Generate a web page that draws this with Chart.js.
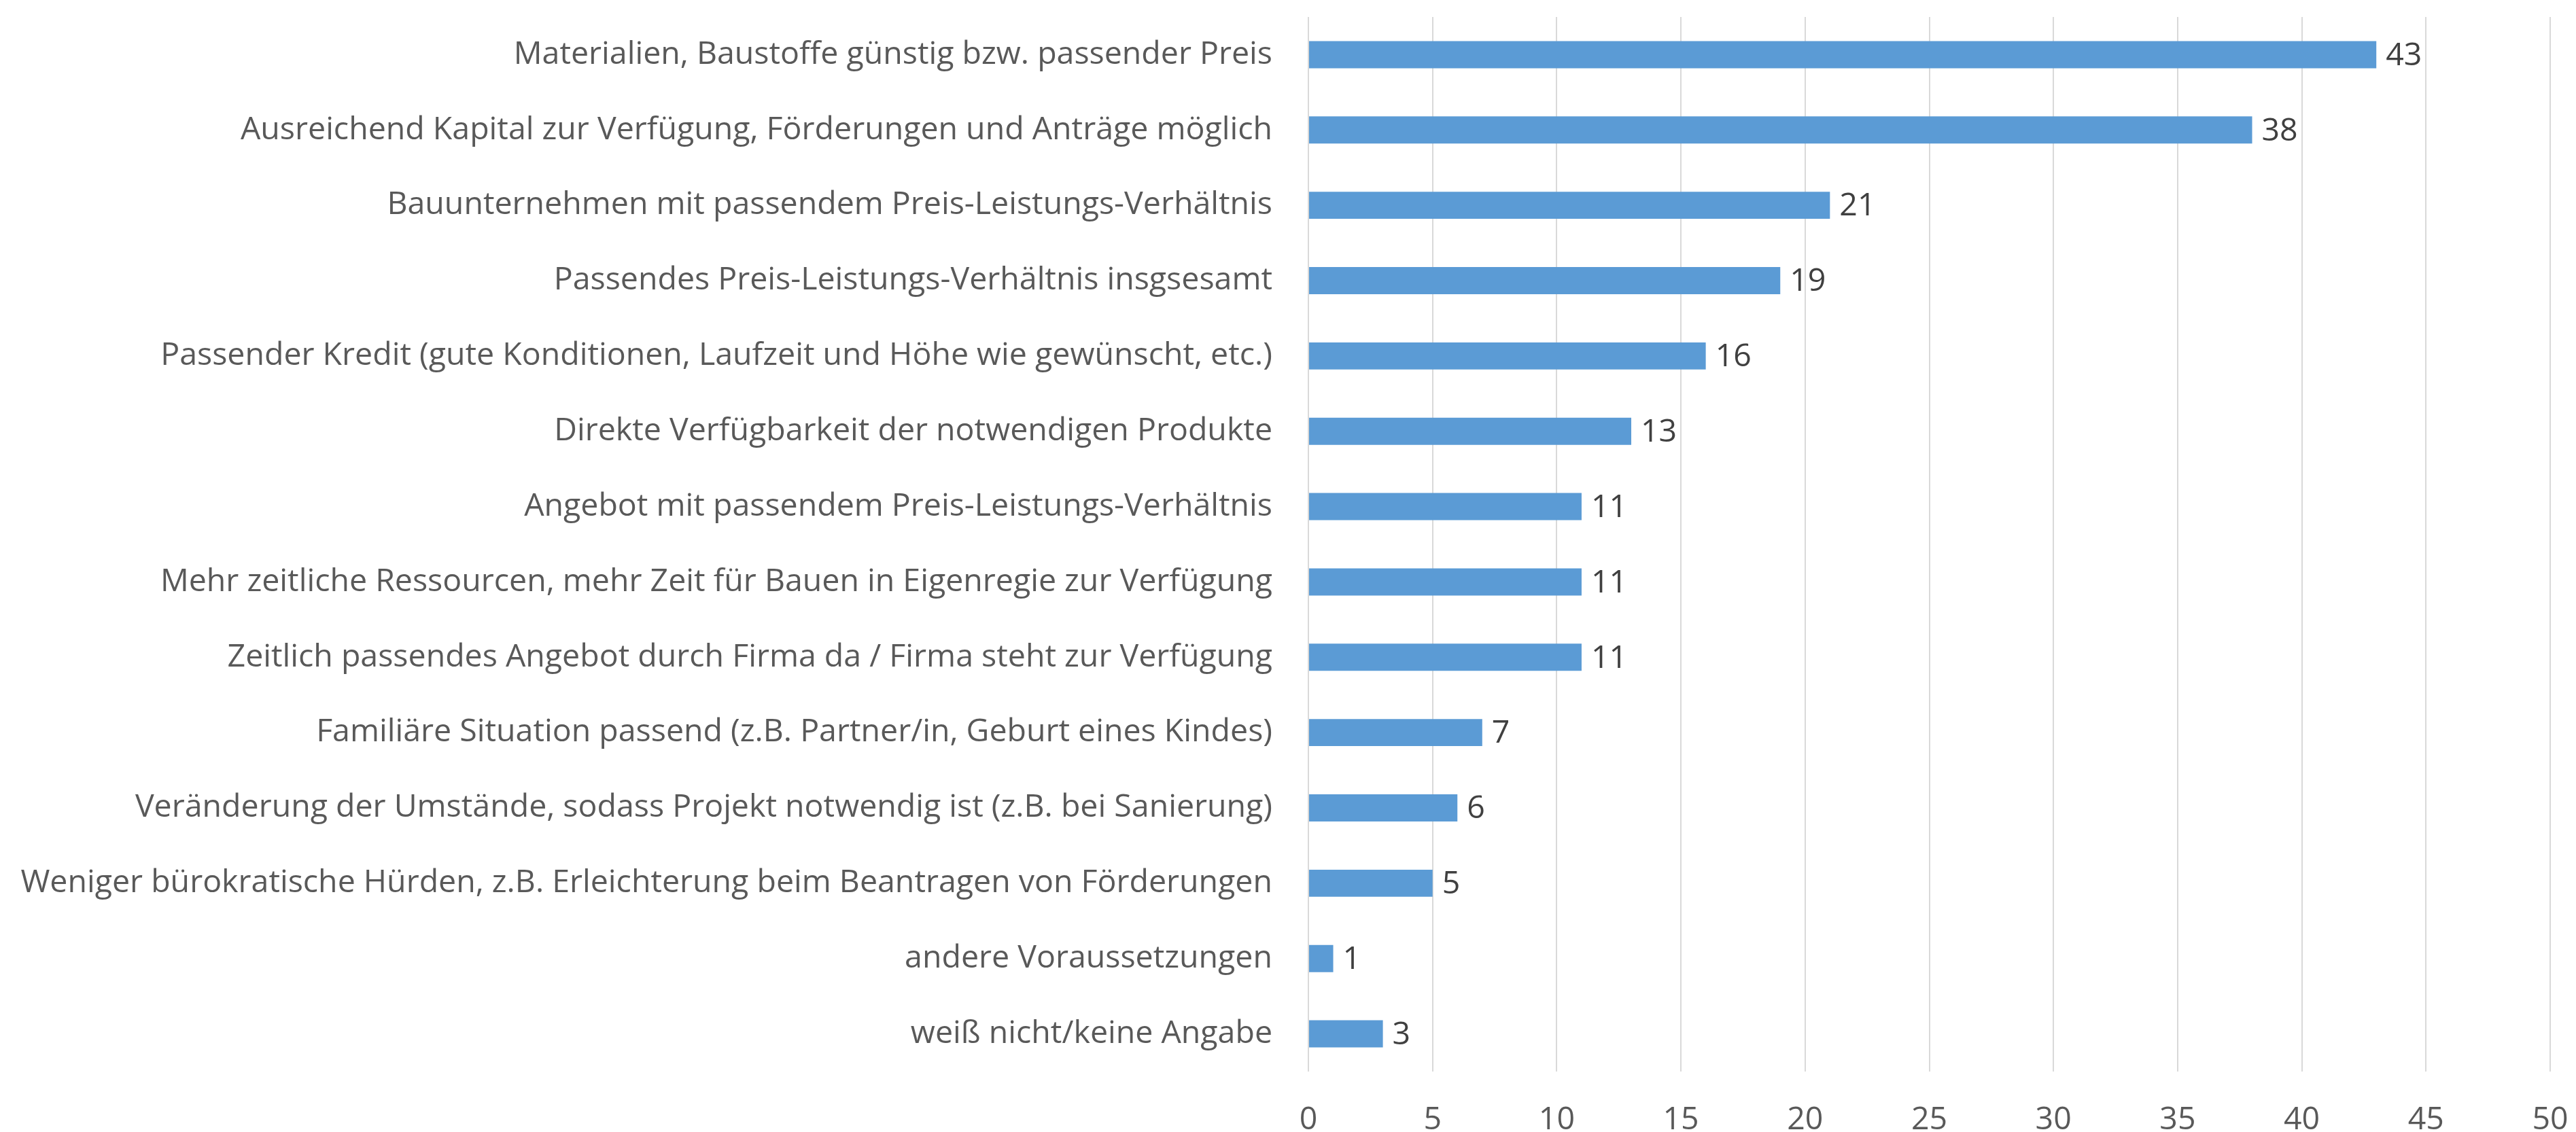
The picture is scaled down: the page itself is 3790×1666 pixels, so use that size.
<!DOCTYPE html>
<html>
<head>
<meta charset="utf-8">
<script src="https://cdn.jsdelivr.net/npm/chart.js@4/dist/chart.umd.min.js"></script>
<style>
  html, body { margin: 0; padding: 0; background: #ffffff; }
  #wrap { width: 3790px; height: 1666px; }
</style>
</head>
<body>
<div id="wrap"><canvas id="voraussetzungen"></canvas></div>
<script>
// Antworten (Kategorien) und Anzahl der Nennungen
const categories = [
    "Materialien, Baustoffe günstig bzw. passender Preis",
    "Ausreichend Kapital zur Verfügung, Förderungen und Anträge möglich",
    "Bauunternehmen mit passendem Preis-Leistungs-Verhältnis",
    "Passendes Preis-Leistungs-Verhältnis insgsesamt",
    "Passender Kredit (gute Konditionen, Laufzeit und Höhe wie gewünscht, etc.)",
    "Direkte Verfügbarkeit der notwendigen Produkte",
    "Angebot mit passendem Preis-Leistungs-Verhältnis",
    "Mehr zeitliche Ressourcen, mehr Zeit für Bauen in Eigenregie zur Verfügung",
    "Zeitlich passendes Angebot durch Firma da / Firma steht zur Verfügung",
    "Familiäre Situation passend (z.B. Partner/in, Geburt eines Kindes)",
    "Veränderung der Umstände, sodass Projekt notwendig ist (z.B. bei Sanierung)",
    "Weniger bürokratische Hürden, z.B. Erleichterung beim Beantragen von Förderungen",
    "andere Voraussetzungen",
    "weiß nicht/keine Angabe"
];
const counts = [43, 38, 21, 19, 16, 13, 11, 11, 11, 7, 6, 5, 1, 3];
const axisTicks = [0, 5, 10, 15, 20, 25, 30, 35, 40, 45, 50];

const FONT = "'Open Sans', sans-serif";
const FONT_SIZE = 46.5;

// Zahlen rechts neben jedem Balken
const valueLabels = {
    id: "valueLabels",
    afterDatasetsDraw(chart) {
        const ctx = chart.ctx;
        const meta = chart.getDatasetMeta(0);
        ctx.save();
        ctx.font = FONT_SIZE + "px " + FONT;
        ctx.fillStyle = "#404040";
        ctx.textAlign = "left";
        ctx.textBaseline = "middle";
        meta.data.forEach((bar, i) => {
            ctx.fillText(String(counts[i]), bar.x + 14, bar.y + 2);
        });
        ctx.restore();
    }
};

new Chart("voraussetzungen", {
    type: "bar",
    data: {
        labels: categories,
        datasets: [{
            data: counts,
            backgroundColor: "#5B9BD5",
            borderWidth: 0,
            barPercentage: 0.72,
            categoryPercentage: 0.5
        }]
    },
    options: {
        indexAxis: "y",
        responsive: true,
        maintainAspectRatio: false,
        animation: false,
        layout: { padding: { top: 25, right: 38, left: 0, bottom: 0 } },
        plugins: {
            legend: { display: false },
            tooltip: { enabled: false }
        },
        scales: {
            x: {
                min: 0,
                max: 50,
                afterBuildTicks(axis) {
                    axis.ticks = axisTicks.map(v => ({ value: v }));
                },
                afterFit(axis) {
                    axis.height = 89;
                    axis.paddingLeft = 0;
                    axis.paddingRight = 0;
                },
                grid: { color: "#D9D9D9", lineWidth: 2, drawTicks: false },
                border: { display: false },
                ticks: {
                    color: "#595959",
                    font: { family: FONT, size: FONT_SIZE },
                    padding: 44
                }
            },
            y: {
                afterFit(axis) {
                    axis.width = 1925;
                    axis.paddingTop = 0;
                    axis.paddingBottom = 0;
                },
                grid: { display: false, drawTicks: false },
                border: { display: false },
                ticks: {
                    color: "#595959",
                    font: { family: FONT, size: FONT_SIZE },
                    padding: 53,
                    autoSkip: false
                }
            }
        }
    },
    plugins: [valueLabels]
});
</script>
</body>
</html>
